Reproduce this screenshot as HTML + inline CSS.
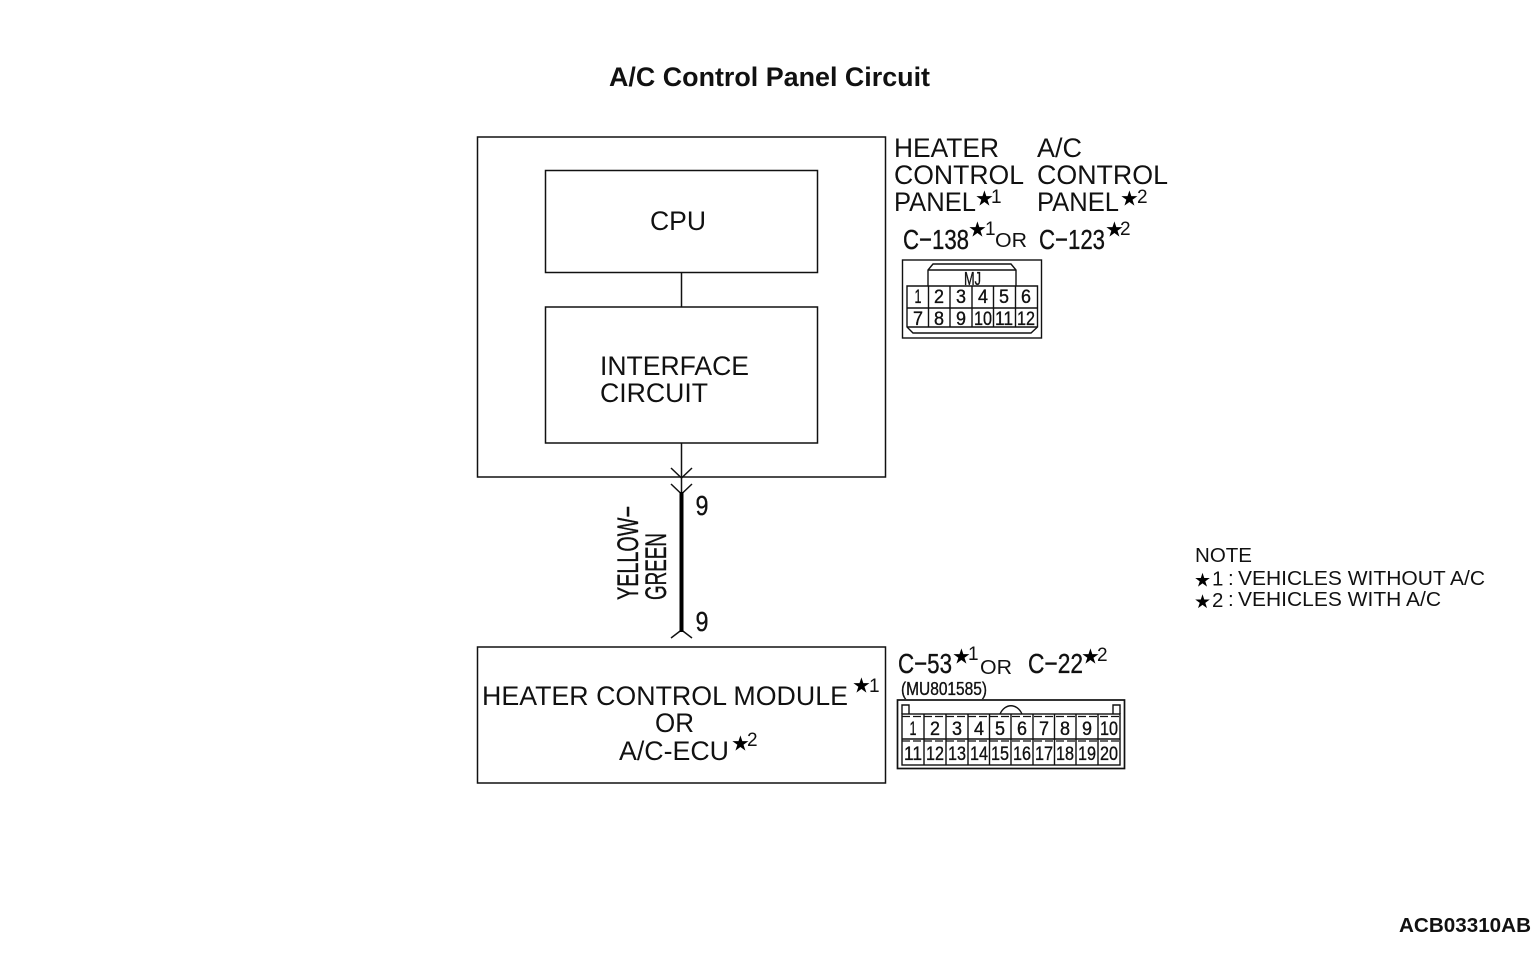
<!DOCTYPE html>
<html>
<head>
<meta charset="utf-8">
<style>
html,body{margin:0;padding:0;background:#fff;width:1533px;height:954px;overflow:hidden}
svg{display:block}
text{font-family:"Liberation Sans",sans-serif;fill:#111}
.t{font-size:27px}
.n{font-size:20.5px}
.k{stroke:#111;stroke-width:.35px}
.st{font-family:"DejaVu Sans",sans-serif;font-size:21px;fill:#000}
.sup{font-size:19px}
</style>
</head>
<body>
<svg width="1533" height="954" viewBox="0 0 1533 954" xmlns="http://www.w3.org/2000/svg">
<text x="609" y="86" font-size="26.5" font-weight="bold" textLength="321" lengthAdjust="spacingAndGlyphs">A/C Control Panel Circuit</text>

<g fill="none" stroke="#111" stroke-width="1.5">
<rect x="477.5" y="137" width="408" height="340"/>
<rect x="545.5" y="170.5" width="272" height="102"/>
<rect x="545.5" y="307" width="272" height="136"/>
<rect x="477.5" y="647" width="408" height="136"/>
<path d="M681.5 272.5V307M681.5 443V494"/>
<path d="M671 468L681.5 478L692 468M671 484L681.5 494L692 484M671 638L681.5 630L692 638"/>
</g>
<path d="M681.5 492V632" stroke="#000" stroke-width="4" fill="none"/>

<text class="t" x="650" y="230" textLength="56" lengthAdjust="spacingAndGlyphs">CPU</text>
<text class="t" x="600" y="375" textLength="149" lengthAdjust="spacingAndGlyphs">INTERFACE</text>
<text class="t" x="600" y="402" textLength="108" lengthAdjust="spacingAndGlyphs">CIRCUIT</text>

<text class="t" x="482" y="705" textLength="366" lengthAdjust="spacingAndGlyphs">HEATER CONTROL MODULE</text>
<text class="st" x="852" y="692.5">★</text>
<text class="sup" x="869" y="692">1</text>
<text class="t" x="655" y="732" textLength="39" lengthAdjust="spacingAndGlyphs">OR</text>
<text class="t" x="619" y="760" textLength="110" lengthAdjust="spacingAndGlyphs">A/C-ECU</text>
<text class="st" x="731" y="750.5">★</text>
<text class="sup" x="747" y="746">2</text>

<text class="t" x="894" y="157" textLength="105" lengthAdjust="spacingAndGlyphs">HEATER</text>
<text class="t" x="894" y="184" textLength="130" lengthAdjust="spacingAndGlyphs">CONTROL</text>
<text class="t" x="894" y="211" textLength="82" lengthAdjust="spacingAndGlyphs">PANEL</text>
<text class="st" x="975" y="205.5">★</text>
<text class="sup" x="991" y="203">1</text>
<text class="t" x="1037" y="157" textLength="45" lengthAdjust="spacingAndGlyphs">A/C</text>
<text class="t" x="1037" y="184" textLength="131" lengthAdjust="spacingAndGlyphs">CONTROL</text>
<text class="t" x="1037" y="211" textLength="82" lengthAdjust="spacingAndGlyphs">PANEL</text>
<text class="st" x="1120" y="205.5">★</text>
<text class="sup" x="1137" y="203">2</text>

<text class="k" x="903" y="249" font-size="28" textLength="66" lengthAdjust="spacingAndGlyphs">C−138</text>
<text class="st" x="968" y="236.5">★</text>
<text class="sup" x="985" y="235">1</text>
<text x="995" y="247" font-size="20" textLength="32" lengthAdjust="spacingAndGlyphs">OR</text>
<text class="k" x="1039" y="249" font-size="28" textLength="66" lengthAdjust="spacingAndGlyphs">C−123</text>
<text class="st" x="1105" y="236.5">★</text>
<text class="sup" x="1120" y="235">2</text>

<!-- connector 1 -->
<g fill="none" stroke="#111" stroke-width="1.4">
<rect x="902.5" y="260" width="139" height="78"/>
<path d="M928 286V270L933 264H1011L1016 270V286"/>
<path d="M928 270H1016"/>
<path d="M907 286H1037.5V327L1031 333H913L907 327Z"/>
<path d="M907 308H1037.5M907 327H1037.5"/>
<path d="M928.5 286V327M950 286V327M972 286V327M993.5 286V327M1015.5 286V327"/>
</g>
<text class="k" x="964" y="285" font-size="18" textLength="17" lengthAdjust="spacingAndGlyphs">MJ</text>
<g font-size="19" text-anchor="middle" class="k">
<text x="918" y="303" textLength="7" lengthAdjust="spacingAndGlyphs">1</text>
<text x="939" y="303" textLength="10" lengthAdjust="spacingAndGlyphs">2</text>
<text x="961" y="303" textLength="10" lengthAdjust="spacingAndGlyphs">3</text>
<text x="983" y="303" textLength="10" lengthAdjust="spacingAndGlyphs">4</text>
<text x="1004" y="303" textLength="10" lengthAdjust="spacingAndGlyphs">5</text>
<text x="1026" y="303" textLength="10" lengthAdjust="spacingAndGlyphs">6</text>
<text x="918" y="325" textLength="10" lengthAdjust="spacingAndGlyphs">7</text>
<text x="939" y="325" textLength="10" lengthAdjust="spacingAndGlyphs">8</text>
<text x="961" y="325" textLength="10" lengthAdjust="spacingAndGlyphs">9</text>
<text x="983" y="325" textLength="18" lengthAdjust="spacingAndGlyphs">10</text>
<text x="1004" y="325" textLength="18" lengthAdjust="spacingAndGlyphs">11</text>
<text x="1026" y="325" textLength="18" lengthAdjust="spacingAndGlyphs">12</text>
</g>

<!-- wire labels -->
<text class="k" x="702" y="515" font-size="28" text-anchor="middle" textLength="13" lengthAdjust="spacingAndGlyphs">9</text>
<text class="k" x="702" y="631" font-size="28" text-anchor="middle" textLength="13" lengthAdjust="spacingAndGlyphs">9</text>
<text class="k" transform="translate(638,600) rotate(-90)" font-size="30" textLength="94" lengthAdjust="spacingAndGlyphs">YELLOW−</text>
<text class="k" transform="translate(666,600) rotate(-90)" font-size="30" textLength="67" lengthAdjust="spacingAndGlyphs">GREEN</text>

<!-- lower connector labels -->
<text class="k" x="898" y="673" font-size="28" textLength="54" lengthAdjust="spacingAndGlyphs">C−53</text>
<text class="st" x="952" y="663.5">★</text>
<text class="sup" x="968" y="660">1</text>
<text x="980" y="674" font-size="20" textLength="32" lengthAdjust="spacingAndGlyphs">OR</text>
<text class="k" x="1028" y="673" font-size="28" textLength="55" lengthAdjust="spacingAndGlyphs">C−22</text>
<text class="st" x="1081" y="663.5">★</text>
<text class="sup" x="1097" y="661">2</text>
<text class="k" x="901" y="695" font-size="18" textLength="86" lengthAdjust="spacingAndGlyphs">(MU801585)</text>

<!-- connector 2 -->
<g fill="none" stroke="#111" stroke-width="1.4">
<rect x="897.5" y="700" width="227" height="68.5" stroke-width="1.7"/>
<path d="M902 714V705H909V714M1113 714V705H1120V714"/>
<path d="M1000 714C1005 703 1017 703 1022 714"/>
<rect x="902" y="714" width="218" height="51"/>
<path d="M924 714V765M946 714V765M968 714V765M989.5 714V765M1011 714V765M1033 714V765M1054.5 714V765M1076 714V765M1098 714V765"/>
<path d="M902 739H1120"/>
<path d="M902 716.5H1120M902 741H1120" stroke-dasharray="8 3" stroke-width="1.2"/>
</g>
<g font-size="19" text-anchor="middle" class="k">
<text x="913" y="735" textLength="7" lengthAdjust="spacingAndGlyphs">1</text>
<text x="935" y="735" textLength="10" lengthAdjust="spacingAndGlyphs">2</text>
<text x="957" y="735" textLength="10" lengthAdjust="spacingAndGlyphs">3</text>
<text x="979" y="735" textLength="10" lengthAdjust="spacingAndGlyphs">4</text>
<text x="1000" y="735" textLength="10" lengthAdjust="spacingAndGlyphs">5</text>
<text x="1022" y="735" textLength="10" lengthAdjust="spacingAndGlyphs">6</text>
<text x="1044" y="735" textLength="10" lengthAdjust="spacingAndGlyphs">7</text>
<text x="1065" y="735" textLength="10" lengthAdjust="spacingAndGlyphs">8</text>
<text x="1087" y="735" textLength="10" lengthAdjust="spacingAndGlyphs">9</text>
<text x="1109" y="735" textLength="18" lengthAdjust="spacingAndGlyphs">10</text>
<text x="913" y="760" textLength="18" lengthAdjust="spacingAndGlyphs">11</text>
<text x="935" y="760" textLength="18" lengthAdjust="spacingAndGlyphs">12</text>
<text x="957" y="760" textLength="18" lengthAdjust="spacingAndGlyphs">13</text>
<text x="979" y="760" textLength="18" lengthAdjust="spacingAndGlyphs">14</text>
<text x="1000" y="760" textLength="18" lengthAdjust="spacingAndGlyphs">15</text>
<text x="1022" y="760" textLength="18" lengthAdjust="spacingAndGlyphs">16</text>
<text x="1044" y="760" textLength="18" lengthAdjust="spacingAndGlyphs">17</text>
<text x="1065" y="760" textLength="18" lengthAdjust="spacingAndGlyphs">18</text>
<text x="1087" y="760" textLength="18" lengthAdjust="spacingAndGlyphs">19</text>
<text x="1109" y="760" textLength="18" lengthAdjust="spacingAndGlyphs">20</text>
</g>

<!-- note -->
<text class="n" x="1195" y="562" textLength="57" lengthAdjust="spacingAndGlyphs">NOTE</text>
<text class="st" x="1194" y="586.5" style="font-size:19px">★</text>
<text class="n" x="1212" y="585.5">1</text>
<text class="n" x="1228" y="585">:</text>
<text class="n" x="1238" y="585" textLength="247" lengthAdjust="spacingAndGlyphs">VEHICLES WITHOUT A/C</text>
<text class="st" x="1194" y="608" style="font-size:19px">★</text>
<text class="n" x="1212" y="607">2</text>
<text class="n" x="1228" y="606">:</text>
<text class="n" x="1238" y="606" textLength="203" lengthAdjust="spacingAndGlyphs">VEHICLES WITH A/C</text>

<text x="1399" y="932" font-size="20.5" font-weight="bold" textLength="132" lengthAdjust="spacingAndGlyphs">ACB03310AB</text>
</svg>
</body>
</html>
